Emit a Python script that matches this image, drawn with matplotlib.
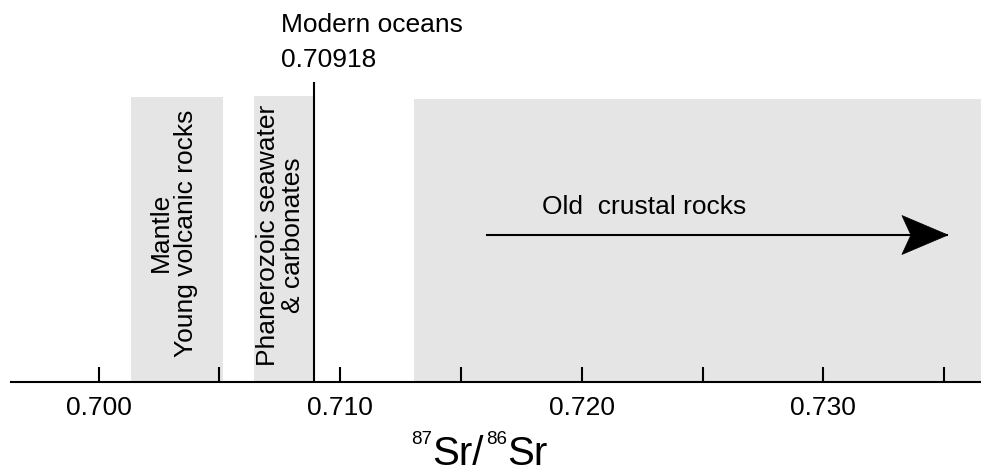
import matplotlib
matplotlib.use("Agg")
import matplotlib.pyplot as plt
from matplotlib.patches import Polygon
from matplotlib.transforms import IdentityTransform

plt.rcParams['font.family'] = ['Liberation Sans', 'DejaVu Sans']

# ---- data ----
tick_values = [0.700, 0.705, 0.710, 0.715, 0.720, 0.725, 0.730, 0.735]
tick_labels = ['0.700', '', '0.710', '', '0.720', '', '0.730', '']
mantle_range = (0.70133, 0.70516)
phanerozoic_range = (0.70643, 0.70886)
modern_ocean_value = 0.70891
modern_ocean_label = "0.70918"
old_crust_start = 0.71307
arrow_start, arrow_end = 0.71604, 0.73516
xlim = (0.69637, 0.73653)

W, H = 981, 473
fig = plt.figure(figsize=(W / 100, H / 100), dpi=100)
axis_y = 381.7
ax = fig.add_axes([11 / W, (H - axis_y) / H, 970 / W, axis_y / H])
ax.set_xlim(*xlim)
ax.set_ylim(0, 1)
ax.patch.set_alpha(0)
for s in ['top', 'left', 'right']:
    ax.spines[s].set_visible(False)
ax.spines['bottom'].set_linewidth(1.5)
ax.set_yticks([])
ax.set_xticks(tick_values)
ax.set_xticklabels(tick_labels)
ax.tick_params(axis='x', direction='in', length=11, width=1.5, pad=10, labelsize=19)

gray = '#e5e5e5'
ax.axvspan(*mantle_range, ymin=0, ymax=0.745, color=gray, lw=0, zorder=0)
ax.axvspan(*phanerozoic_range, ymin=0, ymax=0.748, color=gray, lw=0, zorder=0)
ax.axvspan(old_crust_start, xlim[1], ymin=0, ymax=0.741, color=gray, lw=0, zorder=0)

ax.plot([modern_ocean_value, modern_ocean_value], [0, 0.785], color='black', lw=1.5,
        solid_capstyle='butt', zorder=3)

# rotated labels
ax.text(sum(mantle_range) / 2 - 0.00014, 0.39, "Mantle\nYoung volcanic rocks", rotation=90,
        ha='center', va='center', multialignment='center', fontsize=19, linespacing=1.05)
ax.text(sum(phanerozoic_range) / 2 - 0.00012, 0.383, "Phanerozoic seawater\n& carbonates", rotation=90,
        ha='center', va='center', multialignment='center', fontsize=19, linespacing=1.05)

# old crust arrow: shaft + notched head
arrow_y = (axis_y - 235) / axis_y
tip_px, tip_py = ax.transData.transform((arrow_end, arrow_y))
ax.plot([arrow_start, arrow_end], [arrow_y, arrow_y], color='black', lw=1.5,
        solid_capstyle='butt', zorder=3)
head = Polygon([(tip_px, tip_py), (tip_px - 46, tip_py + 19.5), (tip_px - 37, tip_py),
                (tip_px - 46, tip_py - 19.5)], closed=True, facecolor='black',
               edgecolor='black', lw=0.5, transform=IdentityTransform(), zorder=4)
fig.patches.append(head)
head.set_figure(fig)

ax.text(0.71834, (axis_y - 214) / axis_y, "Old  crustal rocks", ha='left', va='baseline', fontsize=19)

# modern oceans labels
fig.text(281 / W, 1 - 32 / H, "Modern oceans", ha='left', va='baseline', fontsize=19)
fig.text(281 / W, 1 - 67 / H, modern_ocean_label, ha='left', va='baseline', fontsize=19)

# x label: 87Sr/86Sr built from pieces
fig.canvas.draw()
renderer = fig.canvas.get_renderer()
pieces = [("87", 13.5, 21, 0), ("Sr/", 29, 0, 3), ("86", 13.5, 21, 0), ("Sr", 29, 0, 0)]
x = 411.0
base = H - 465
for txt, fs, raise_px, gap in pieces:
    t = fig.text(x / W, (base + raise_px) / H, txt, ha='left', va='baseline', fontsize=fs)
    bb = t.get_window_extent(renderer)
    x += bb.width + gap

fig.savefig('out.png', dpi=100)
